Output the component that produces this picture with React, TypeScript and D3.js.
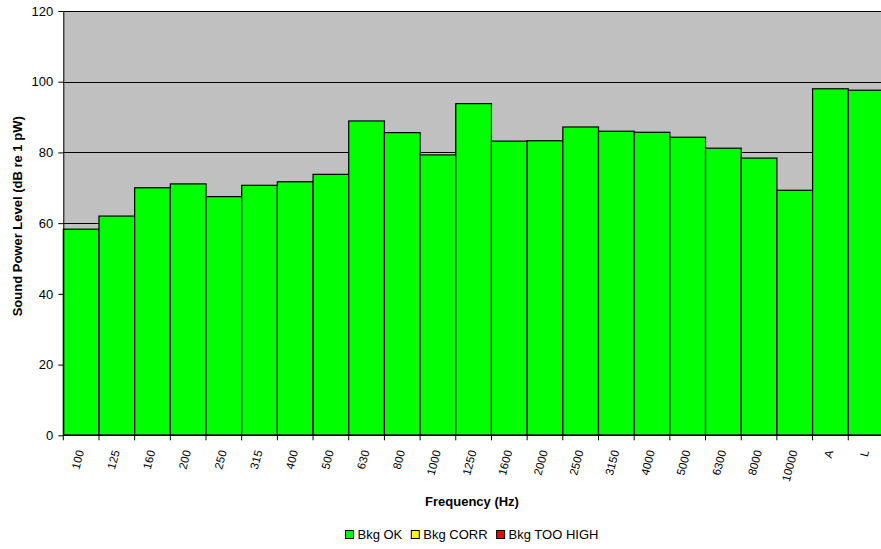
import React, { useEffect, useRef } from 'react';
import * as d3 from 'd3';

const categories = ['100', '125', '160', '200', '250', '315', '400', '500', '630', '800', '1000', '1250',
  '1600', '2000', '2500', '3150', '4000', '5000', '6300', '8000', '10000', 'A', 'L'];
const levels = [58.3, 62.0, 70.0, 71.1, 67.5, 70.7, 71.7, 73.8, 88.9, 85.6, 79.3, 93.8,
  83.2, 83.3, 87.2, 86.0, 85.7, 84.3, 81.2, 78.4, 69.3, 98.0, 97.6];
const yTicks = [0, 20, 40, 60, 80, 100, 120];
const legendItems = [
  { label: 'Bkg OK', color: '#00FF00' },
  { label: 'Bkg CORR', color: '#FFFF00' },
  { label: 'Bkg TOO HIGH', color: '#FF0000' },
];

const W = 881;
const H = 549;

const App: React.FC = () => {
  const svgRef = useRef<SVGSVGElement>(null);

  useEffect(() => {
    if (!svgRef.current) return;
    d3.select(svgRef.current).selectAll('*').remove();

    const margin = { top: 11, left: 63.3 };
    const width = 35.68 * categories.length;
    const height = 424.3;
    const font = 'Arial, "Liberation Sans", sans-serif';

    const svg = d3.select(svgRef.current)
      .attr('font-family', font);

    const g = svg.append('g')
      .attr('transform', `translate(${margin.left},${margin.top})`);

    const x = d3.scaleBand<string>()
      .domain(categories)
      .range([0, width])
      .padding(0);

    const y = d3.scaleLinear()
      .domain([0, 120])
      .range([height, 0]);

    // plot background
    g.append('rect')
      .attr('width', width)
      .attr('height', height)
      .attr('fill', '#C0C0C0');

    // gridlines
    g.append('g')
      .selectAll('line')
      .data(yTicks.filter(t => t > 0))
      .join('line')
      .attr('x1', 0)
      .attr('x2', width)
      .attr('y1', d => Math.round(y(d)) + 0.5)
      .attr('y2', d => Math.round(y(d)) + 0.5)
      .attr('stroke', '#000')
      .attr('stroke-width', 1);

    // bars
    g.append('g')
      .selectAll('rect')
      .data(levels)
      .join('rect')
      .attr('x', (d, i) => x(categories[i]) || 0)
      .attr('y', d => y(d))
      .attr('width', x.bandwidth())
      .attr('height', d => height - y(d))
      .attr('fill', '#00FF00')
      .attr('stroke', '#000')
      .attr('stroke-width', 1.2);

    // y axis
    const yAxis = g.append('g')
      .call(d3.axisLeft(y).tickValues(yTicks).tickSize(5).tickSizeOuter(0).tickPadding(5));
    yAxis.selectAll('text').attr('font-size', 13).attr('font-family', font).attr('fill', '#000');
    yAxis.selectAll('line').attr('stroke', '#000');
    yAxis.select('.domain').attr('stroke', '#000');

    // x axis line
    g.append('line')
      .attr('x1', 0)
      .attr('x2', width)
      .attr('y1', height)
      .attr('y2', height)
      .attr('stroke', '#000')
      .attr('stroke-width', 1.5);

    // x ticks at band boundaries
    const boundaries = d3.range(categories.length + 1).map(i => i * x.step());
    g.append('g')
      .selectAll('line')
      .data(boundaries)
      .join('line')
      .attr('x1', d => d)
      .attr('x2', d => d)
      .attr('y1', height)
      .attr('y2', height + 5)
      .attr('stroke', '#000');

    // x labels
    g.append('g')
      .selectAll('text')
      .data(categories)
      .join('text')
      .attr('transform', d => `translate(${(x(d) || 0) + x.bandwidth() / 2 + 3},${height + 16.1}) rotate(-75)`)
      .attr('text-anchor', 'end')
      .attr('font-size', 11.5)
      .text(d => d);

    // axis titles
    svg.append('text')
      .attr('x', 472)
      .attr('y', 506.4)
      .attr('text-anchor', 'middle')
      .attr('font-size', 13)
      .attr('font-weight', 'bold')
      .text('Frequency (Hz)');

    svg.append('text')
      .attr('transform', 'translate(21.5,216.3) rotate(-90)')
      .attr('text-anchor', 'middle')
      .attr('font-size', 13)
      .attr('font-weight', 'bold')
      .text('Sound Power Level (dB re 1 pW)');

    // legend
    const legend = svg.append('g').attr('transform', 'translate(345.5,538.5)');
    let offset = 0;
    legendItems.forEach(item => {
      const lg = legend.append('g').attr('transform', `translate(${offset},0)`);
      lg.append('rect')
        .attr('x', 0)
        .attr('y', -8)
        .attr('width', 8)
        .attr('height', 8)
        .attr('fill', item.color)
        .attr('stroke', '#000');
      const t = lg.append('text')
        .attr('x', 12)
        .attr('y', 0)
        .attr('font-size', 13)
        .text(item.label);
      const tw = (t.node() as SVGTextElement).getComputedTextLength();
      offset += 12 + tw + 9;
    });
  }, []);

  return (
    <svg ref={svgRef} width={W} height={H}
      style={{ position: 'absolute', left: 0, top: 0, background: '#fff' }} />
  );
};

export default App;
